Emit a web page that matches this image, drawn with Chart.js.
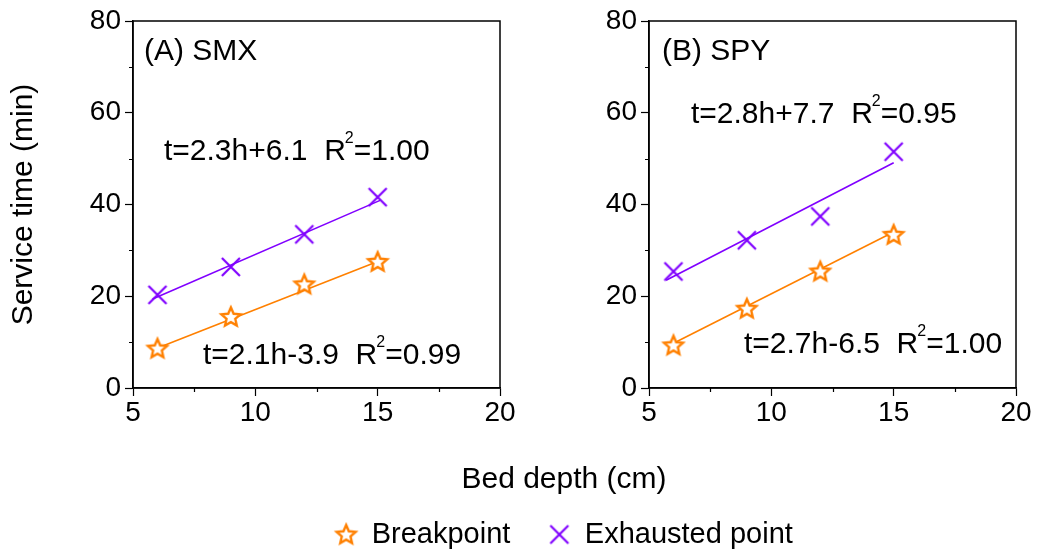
<!DOCTYPE html>
<html>
<head>
<meta charset="utf-8">
<script src="https://cdn.jsdelivr.net/npm/chart.js@4.4.1/dist/chart.umd.min.js"></script>
<style>
  html, body { margin: 0; padding: 0; background: #fff; }
  #wrap { position: relative; width: 1038px; height: 552px; overflow: hidden; }
  canvas { position: absolute; }
</style>
</head>
<body>
<div id="wrap">
  <canvas id="left" width="530" height="430" style="left:0;top:0"></canvas>
  <canvas id="right" width="518" height="430" style="left:520px;top:0"></canvas>
  <canvas id="bottom" width="1038" height="102" style="left:0;top:450px"></canvas>
</div>
<script>
// ---------- data ----------
const bedDepth = [6, 9, 12, 15];
const smxBreakpoint = [8.6, 15.5, 22.6, 27.5];
const smxExhausted = [20.3, 26.4, 33.5, 41.6];
const spyBreakpoint = [9.3, 17.3, 25.4, 33.4];
const spyExhausted = [25.4, 32.2, 37.4, 51.5];

// fitted lines (end points)
const smxBreakFitX = [5.9, 15.0];
const smxBreakFitY = [8.5, 27.6];
const smxExhFitX = [5.8, 15.1];
const smxExhFitY = [19.4, 40.9];
const spyBreakFitX = [5.9, 15.0];
const spyBreakFitY = [9.5, 34.0];
const spyExhFitX = [5.7, 15.0];
const spyExhFitY = [23.5, 49.1];

const xTicks = [5, 10, 15, 20];
const yTicks = [0, 20, 40, 60, 80];
const xMinorTicks = [7.5, 12.5, 17.5];
const yMinorTicks = [10, 30, 50, 70];

const seriesNames = ['Breakpoint', 'Exhausted point'];
const xTitle = 'Bed depth (cm)';
const yTitle = 'Service time (min)';

const smxLabels = { title: '(A) SMX',
  exh: ['t=2.3h+6.1  R', '2', '=1.00'],
  brk: ['t=2.1h-3.9  R', '2', '=0.99'] };
const spyLabels = { title: '(B) SPY',
  exh: ['t=2.8h+7.7  R', '2', '=0.95'],
  brk: ['t=2.7h-6.5  R', '2', '=1.00'] };

// ---------- styles ----------
const ORANGE = '#FF8000';
const PURPLE = '#8000FF';
const FONT = 'Liberation Sans, Arial, sans-serif';
const FS = 30;      // titles / annotations
const FT = 28;      // tick labels
const FL = 29;      // legend

function makeStar() {
  const c = document.createElement('canvas');
  c.width = 26; c.height = 26;
  const g = c.getContext('2d');
  const cx = 13, cy = 13.5, R = 10, r = 4.6;
  g.beginPath();
  for (let i = 0; i < 10; i++) {
    const a = -Math.PI / 2 + i * Math.PI / 5;
    const rr = i % 2 === 0 ? R : r;
    const px = cx + rr * Math.cos(a), py = cy + rr * Math.sin(a);
    if (i === 0) g.moveTo(px, py); else g.lineTo(px, py);
  }
  g.closePath();
  g.fillStyle = '#fff';
  g.fill();
  g.lineWidth = 2.4;
  g.lineJoin = 'miter';
  g.strokeStyle = ORANGE;
  g.stroke();
  return c;
}
function makeX() {
  const c = document.createElement('canvas');
  c.width = 24; c.height = 24;
  const g = c.getContext('2d');
  g.strokeStyle = PURPLE;
  g.lineWidth = 2.2;
  g.beginPath();
  g.moveTo(3, 3); g.lineTo(21, 21);
  g.moveTo(21, 3); g.lineTo(3, 21);
  g.stroke();
  return c;
}
const starImg = makeStar();
const xImg = makeX();

const pts = (xs, ys) => xs.map((x, i) => ({ x: x, y: ys[i] }));

const framePlugin = {
  id: 'frame',
  afterDraw(chart) {
    const { ctx, chartArea: a, scales } = chart;
    ctx.save();
    ctx.strokeStyle = '#000';
    ctx.lineWidth = 1.5;
    ctx.strokeRect(a.left, a.top, a.right - a.left, a.bottom - a.top);
    ctx.beginPath();
    yMinorTicks.forEach(v => {
      const p = Math.round(scales.y.getPixelForValue(v)) + 0.5;
      ctx.moveTo(a.left - 4, p); ctx.lineTo(a.left, p);
    });
    xMinorTicks.forEach(v => {
      const p = Math.round(scales.x.getPixelForValue(v)) + 0.5;
      ctx.moveTo(p, a.bottom); ctx.lineTo(p, a.bottom + 4);
    });
    ctx.lineWidth = 1.2;
    ctx.stroke();
    ctx.restore();
  }
};

function drawEq(ctx, x, y, parts) {
  ctx.font = FS + 'px ' + FONT;
  ctx.fillText(parts[0], x, y);
  let w = ctx.measureText(parts[0]).width;
  ctx.font = '16px ' + FONT;
  ctx.fillText(parts[1], x + w - 1, y - 17);
  const w2 = ctx.measureText(parts[1]).width;
  ctx.font = FS + 'px ' + FONT;
  ctx.fillText(parts[2], x + w - 1 + w2, y);
}

function textPlugin(labels, pos) {
  return {
    id: 'panelText',
    afterDraw(chart) {
      const { ctx, chartArea: a } = chart;
      ctx.save();
      ctx.fillStyle = '#000';
      ctx.textBaseline = 'alphabetic';
      ctx.textAlign = 'left';
      ctx.font = FS + 'px ' + FONT;
      ctx.fillText(labels.title, a.left + pos.title[0], a.top + pos.title[1]);
      drawEq(ctx, a.left + pos.exh[0], a.top + pos.exh[1], labels.exh);
      drawEq(ctx, a.left + pos.brk[0], a.top + pos.brk[1], labels.brk);
      ctx.restore();
    }
  };
}

function makePanel(id, brk, exh, bfx, bfy, efx, efy, labels, pos, showTitle, yWidth, padRight) {
  return new Chart(document.getElementById(id), {
    type: 'scatter',
    data: {
      datasets: [
        { label: 'bfit', data: pts(bfx, bfy), showLine: true, borderColor: ORANGE, borderWidth: 1.6, pointRadius: 0, order: 3 },
        { label: 'efit', data: pts(efx, efy), showLine: true, borderColor: PURPLE, borderWidth: 1.6, pointRadius: 0, order: 3 },
        { label: seriesNames[0], data: pts(bedDepth, brk), showLine: false, pointStyle: starImg, pointRadius: 10, order: 1 },
        { label: seriesNames[1], data: pts(bedDepth, exh), showLine: false, pointStyle: xImg, pointRadius: 10, order: 1 }
      ]
    },
    options: {
      responsive: false,
      animation: false,
      devicePixelRatio: 1,
      layout: { padding: { top: 21, right: padRight, left: 0, bottom: 0 } },
      plugins: { legend: { display: false }, tooltip: { enabled: false } },
      scales: {
        x: {
          type: 'linear', min: 5, max: 20,
          afterBuildTicks: s => { s.ticks = xTicks.map(v => ({ value: v })); },
          afterFit: s => { s.height = 42; },
          ticks: { color: '#000', font: { family: FONT, size: FT }, padding: 0, maxRotation: 0 },
          grid: { display: true, drawOnChartArea: false, drawTicks: true, tickLength: 8, tickColor: '#000', tickWidth: 1.2 },
          border: { display: true, color: '#000', width: 1.5 }
        },
        y: {
          type: 'linear', min: 0, max: 80,
          afterBuildTicks: s => { s.ticks = yTicks.map(v => ({ value: v })); },
          afterFit: s => { s.width = yWidth; },
          ticks: { color: '#000', font: { family: FONT, size: FT }, padding: 4 },
          grid: { display: true, drawOnChartArea: false, drawTicks: true, tickLength: 8, tickColor: '#000', tickWidth: 1.2 },
          border: { display: true, color: '#000', width: 1.5 },
          title: { display: showTitle, text: yTitle, color: '#000', font: { family: FONT, size: FS }, padding: { top: 6, bottom: 0 } }
        }
      }
    },
    plugins: [framePlugin, textPlugin(labels, pos)]
  });
}

makePanel('left', smxBreakpoint, smxExhausted, smxBreakFitX, smxBreakFitY, smxExhFitX, smxExhFitY,
  smxLabels, { title: [11, 39], exh: [31, 139], brk: [70, 343] }, true, 133, 30);
makePanel('right', spyBreakpoint, spyExhausted, spyBreakFitX, spyBreakFitY, spyExhFitX, spyExhFitY,
  spyLabels, { title: [13, 39], exh: [42, 102], brk: [95, 332] }, false, 129, 22);

// legend + shared x-axis title
new Chart(document.getElementById('bottom'), {
  type: 'scatter',
  data: {
    datasets: [
      { label: seriesNames[0], data: [], pointStyle: starImg, borderColor: ORANGE, backgroundColor: '#fff' },
      { label: seriesNames[1], data: [], pointStyle: xImg, borderColor: PURPLE, backgroundColor: '#fff' }
    ]
  },
  options: {
    responsive: false,
    animation: false,
    devicePixelRatio: 1,
    layout: { padding: { left: 90, right: 0, top: 0, bottom: 0 } },
    scales: { x: { display: false }, y: { display: false } },
    plugins: {
      tooltip: { enabled: false },
      title: { display: true, text: xTitle, color: '#000', font: { family: FONT, size: FS, weight: 'normal' }, padding: { top: 12, bottom: -16 } },
      legend: {
        display: true, position: 'top', maxHeight: 300,
        labels: { usePointStyle: true, boxWidth: 22, boxHeight: 22, padding: 38, color: '#000', font: { family: FONT, size: FL } }
      }
    }
  }
});
</script>
</body>
</html>
